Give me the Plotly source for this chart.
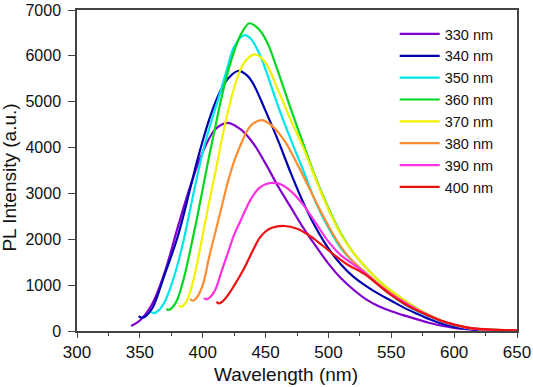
import plotly.graph_objects as go

labels = ["330 nm", "340 nm", "350 nm", "360 nm", "370 nm", "380 nm", "390 nm", "400 nm"]
colors = ["#8000D0", "#0000B0", "#00E5E8", "#00D820", "#F2F200", "#FF8C30", "#FF30E0", "#EE1010"]

wl_330 = [343, 350, 360, 370, 380, 390, 400, 410, 420, 430, 440, 450, 460, 470, 480, 490, 500, 510, 520, 530, 540, 550, 560, 570, 580, 590, 600, 610, 620, 650]
pl_330 = [110, 230, 600, 1300, 2250, 3150, 3900, 4400, 4540, 4400, 4100, 3650, 3150, 2700, 2250, 1850, 1470, 1150, 900, 690, 540, 430, 340, 260, 180, 115, 70, 40, 22, 5]

wl_340 = [349, 352, 355, 360, 370, 380, 390, 395, 400, 405, 410, 415, 420, 428, 435, 440, 450, 460, 470, 480, 490, 500, 510, 520, 530, 540, 550, 560, 570, 580, 590, 600, 610, 620, 650]
pl_340 = [320, 290, 330, 500, 1250, 2050, 3100, 3650, 4150, 4600, 4980, 5280, 5500, 5670, 5580, 5400, 4800, 4150, 3450, 2800, 2250, 1800, 1450, 1180, 980, 810, 660, 510, 380, 260, 160, 90, 50, 25, 5]

wl_350 = [359, 361, 365, 370, 375, 380, 385, 390, 395, 400, 405, 410, 415, 420, 425, 433, 438, 445, 450, 455, 460, 470, 480, 490, 500, 510, 520, 530, 540, 550, 560, 570, 580, 590, 600, 610, 620, 650]
pl_350 = [420, 390, 450, 650, 1000, 1450, 2000, 2650, 3300, 3900, 4400, 4850, 5300, 5780, 6200, 6450, 6380, 6050, 5700, 5300, 4900, 4180, 3500, 2800, 2250, 1800, 1500, 1260, 1000, 780, 590, 440, 320, 210, 125, 70, 40, 10]

wl_360 = [371, 373, 377, 380, 385, 390, 395, 400, 405, 410, 415, 420, 425, 430, 437, 442, 447, 452, 460, 465, 470, 480, 490, 500, 510, 520, 530, 540, 550, 560, 570, 580, 590, 600, 610, 620, 650]
pl_360 = [480, 460, 550, 700, 1150, 1750, 2400, 3100, 3800, 4450, 5100, 5650, 6100, 6450, 6710, 6650, 6500, 6250, 5650, 5250, 4850, 4080, 3330, 2680, 2120, 1700, 1380, 1100, 870, 680, 500, 350, 225, 135, 75, 40, 10]

wl_370 = [381, 383, 386, 390, 395, 400, 405, 410, 415, 420, 425, 430, 435, 442, 450, 460, 470, 480, 490, 500, 510, 520, 530, 540, 550, 560, 570, 580, 590, 600, 610, 620, 650]
pl_370 = [560, 530, 600, 850, 1400, 2100, 2800, 3450, 4150, 4780, 5300, 5700, 5920, 6030, 5850, 5250, 4600, 4000, 3300, 2650, 2100, 1700, 1380, 1100, 870, 680, 500, 350, 225, 135, 75, 40, 10]

wl_380 = [390, 392, 395, 400, 405, 410, 415, 420, 425, 430, 435, 440, 447, 455, 465, 475, 485, 495, 505, 515, 525, 530, 540, 550, 560, 570, 580, 590, 600, 610, 620, 650]
pl_380 = [700, 660, 720, 1000, 1600, 2150, 2700, 3250, 3700, 4050, 4350, 4520, 4600, 4480, 4150, 3650, 3100, 2550, 2050, 1650, 1380, 1260, 1020, 820, 640, 480, 340, 220, 135, 75, 40, 10]

wl_390 = [401, 403, 406, 410, 415, 420, 425, 430, 435, 440, 445, 450, 456, 462, 470, 480, 490, 500, 510, 520, 530, 540, 550, 560, 570, 580, 590, 600, 610, 620, 650]
pl_390 = [720, 690, 740, 900, 1300, 1700, 2100, 2400, 2700, 2950, 3120, 3200, 3230, 3200, 3050, 2750, 2350, 1950, 1650, 1450, 1240, 1000, 800, 630, 470, 340, 220, 135, 75, 40, 10]

wl_400 = [411, 413, 416, 420, 425, 430, 435, 440, 445, 450, 455, 465, 475, 485, 495, 505, 515, 525, 530, 540, 550, 560, 570, 580, 590, 600, 610, 620, 650]
pl_400 = [640, 600, 650, 780, 990, 1220, 1480, 1760, 2020, 2170, 2250, 2290, 2230, 2080, 1870, 1650, 1450, 1300, 1220, 1000, 780, 600, 450, 330, 220, 140, 80, 45, 12]

series = [
    (wl_330, pl_330), (wl_340, pl_340), (wl_350, pl_350), (wl_360, pl_360),
    (wl_370, pl_370), (wl_380, pl_380), (wl_390, pl_390), (wl_400, pl_400),
]

x_ticks = [300, 350, 400, 450, 500, 550, 600, 650]
y_ticks = [0, 1000, 2000, 3000, 4000, 5000, 6000, 7000]

fig = go.Figure()
for (x, y), name, c in zip(series, labels, colors):
    fig.add_trace(go.Scatter(x=x, y=y, mode="lines", name=name,
                             line=dict(color=c, width=2.2, shape="spline", smoothing=1.0)))

axis_col = "#444444"
fig.update_layout(
    width=533, height=387,
    margin=dict(l=77, r=16, t=10, b=56),
    paper_bgcolor="white", plot_bgcolor="white",
    font=dict(family="Liberation Sans, Arial, sans-serif", size=17, color="#111111"),
    showlegend=True,
    legend=dict(x=0.722, y=0.975, xanchor="left", yanchor="top",
                bgcolor="rgba(0,0,0,0)", borderwidth=0,
                font=dict(size=14.5), itemwidth=40, tracegroupgap=0),
    annotations=[
        dict(text="Wavelength (nm)", xref="paper", yref="paper", x=0.476, y=-0.097,
             xanchor="center", yanchor="top", showarrow=False, font=dict(size=19)),
        dict(text="PL Intensity (a.u.)", xref="paper", yref="paper", x=-0.153, y=0.477,
             xanchor="center", yanchor="middle", showarrow=False, textangle=-90,
             font=dict(size=19)),
    ],
)
fig.update_xaxes(
    range=[300, 650], tickvals=x_ticks, ticks="outside", ticklen=5, tickwidth=1.3,
    tickcolor=axis_col, showline=True, linecolor=axis_col, linewidth=1.5, mirror=True,
    showgrid=False, zeroline=False, automargin=False,
    minor=dict(dtick=25, tick0=300, ticks="outside", ticklen=3, tickwidth=1.2, tickcolor=axis_col),
    tickfont=dict(size=17),
)
fig.update_yaxes(
    range=[0, 7000], tickvals=y_ticks, ticks="outside", ticklen=7, tickwidth=1.3,
    tickcolor=axis_col, showline=True, linecolor=axis_col, linewidth=1.5, mirror=True,
    showgrid=False, zeroline=False, automargin=False, ticklabelstandoff=4,
    tickfont=dict(size=16),
)

fig.write_html("out.html", config={"displayModeBar": False},
               post_script="document.body.style.margin='0';")
